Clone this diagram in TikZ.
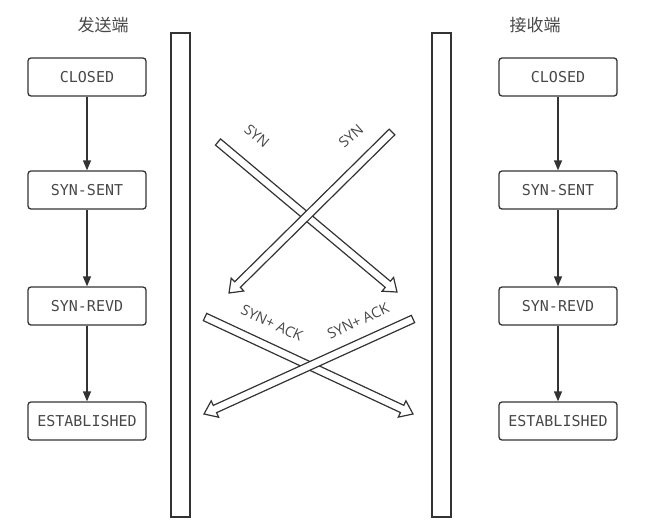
\documentclass[tikz,border=0pt]{standalone}
\usepackage{fontspec}
\setmonofont{DejaVu Sans Mono}
\setsansfont{Open Sans}
\newfontfamily\cjk{Noto Sans CJK SC}
\usetikzlibrary{calc}
\usetikzlibrary{arrows.meta}

\definecolor{ink}{HTML}{333333}
\definecolor{txt}{HTML}{484848}

% hollow arrow from #1 to #2
\newcommand{\fatarrow}[2]{%
  \coordinate (hb) at ($(#2)!12pt!(#1)$);
  \draw[fat] ($(#1)!4pt!90:(#2)$) -- ($(hb)!4pt!90:(#2)$) -- ($(hb)!9pt!90:(#2)$)
    -- (#2) -- ($(hb)!9pt!-90:(#2)$) -- ($(hb)!4pt!-90:(#2)$)
    -- ($(#1)!4pt!-90:(#2)$) -- cycle;
}

\begin{document}
\begin{tikzpicture}[
     x=1pt,y=-1pt,
     state/.style={draw=ink,line width=1.3pt,rounded corners=3pt,minimum width=118pt,
       minimum height=38pt,inner xsep=4pt,text=txt,font=\ttfamily\fontsize{15}{17}\selectfont},
     title/.style={text=txt,font=\cjk\fontsize{17}{20}\selectfont},
     lbl/.style={text=txt,font=\sffamily\fontsize{14.5}{16}\selectfont,inner sep=0pt},
     bar/.style={draw=ink,line width=1.3pt},
     fat/.style={draw=ink,line width=1.2pt,fill=white,line join=miter},
     flow/.style={draw=ink,line width=1.3pt,-{Triangle[length=10pt,width=8pt]}}
   ]
   \path[use as bounding box] (0,0) rectangle (650,531);
   % Titles.
   \node[title] (snd) at (103,25) {发送端};
   \node[title] (rcv) at (535,25) {接收端};
   % Sender states.
   \node[state] (s0) at (87,77) {CLOSED};
   \node[state] (s1) at (87,190) {SYN-SENT};
   \node[state] (s2) at (87,306) {SYN-REVD};
   \node[state] (s3) at (87,421) {ESTABLISHED};
   \draw[flow] (s0) -- (s1);
   \draw[flow] (s1) -- (s2);
   \draw[flow] (s2) -- (s3);
   % Receiver states.
   \node[state] (r0) at (558,77) {CLOSED};
   \node[state] (r1) at (558,190) {SYN-SENT};
   \node[state] (r2) at (558,306) {SYN-REVD};
   \node[state] (r3) at (558,421) {ESTABLISHED};
   \draw[flow] (r0) -- (r1);
   \draw[flow] (r1) -- (r2);
   \draw[flow] (r2) -- (r3);
   % Bars.
   \draw[bar] (171,33) rectangle (190,517);
   \draw[bar] (432,33) rectangle (451,517);
   % Segments.
   \coordinate (a0) at (218,142); \coordinate (a1) at (397,292);
   \coordinate (b0) at (392,132); \coordinate (b1) at (229,293);
   \coordinate (c0) at (205,317); \coordinate (c1) at (413,414);
   \coordinate (d0) at (413,319); \coordinate (d1) at (204,414);
   \fatarrow{a0}{a1}
   \fatarrow{b0}{b1}
   \fatarrow{c0}{c1}
   \fatarrow{d0}{d1}
   \node[lbl,rotate=-40] (la) at (257,136) {SYN};
   \node[lbl,rotate=42] (lb) at (351,136) {SYN};
   \node[lbl,rotate=-25] (lc) at (272,323) {SYN+ ACK};
   \node[lbl,rotate=25] (ld) at (358,321) {SYN+ ACK};
 \end{tikzpicture}
\end{document}
